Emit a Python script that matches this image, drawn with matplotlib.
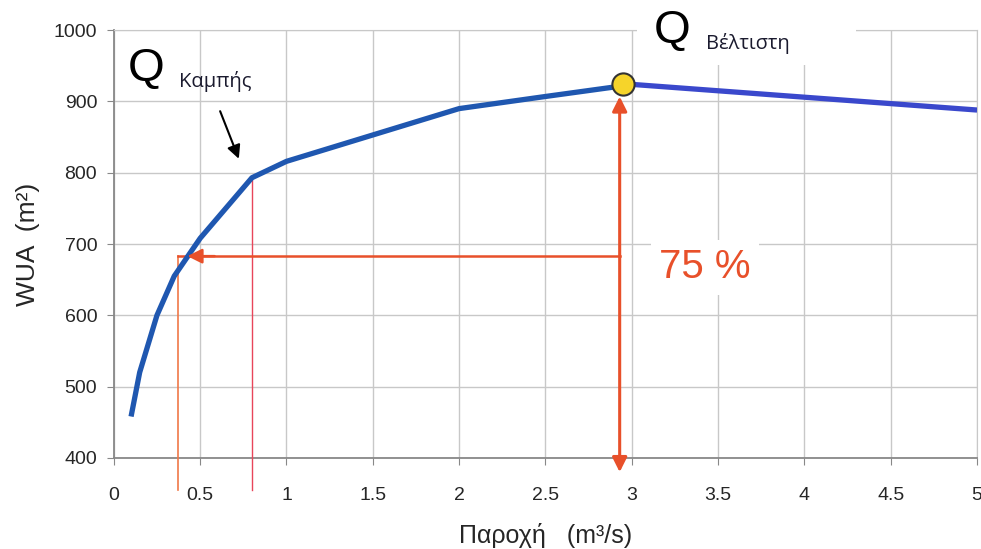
import numpy as np
import matplotlib
matplotlib.use("Agg")
import matplotlib.pyplot as plt
from matplotlib.patches import Rectangle

plt.rcParams['font.family'] = ['Liberation Sans', 'DejaVu Sans']

# discharge (m3/s) and WUA (m2), rising part and falling part
flow_up = [0.1, 0.15, 0.25, 0.35, 0.5, 0.8, 1.0, 1.5, 2.0, 2.5, 2.95]
wua_up = [458, 520, 600, 655, 708, 793, 816, 853, 890, 907, 922]
flow_down = [2.95, 3.0, 3.5, 4.0, 4.5, 5.0]
wua_down = [925, 924, 915, 906, 897, 888]

q_opt = 2.95
wua_opt = 925
q_knee = 0.8
wua_knee = 793
q_75 = 0.37
wua_75 = 683

x_ticks = [0, 0.5, 1, 1.5, 2, 2.5, 3, 3.5, 4, 4.5, 5]
x_labels = ['0', '0.5', '1', '1.5', '2', '2.5', '3', '3.5', '4', '4.5', '5']
y_ticks = [400, 500, 600, 700, 800, 900, 1000]

red = '#E8502A'
text_col = '#262626'

fig = plt.figure(figsize=(9.81, 5.49), dpi=100)
ax = fig.add_axes([0.116, 0.166, 0.880, 0.779])

ax.set_xlim(0, 5)
ax.set_ylim(400, 1000)
ax.set_xticks(x_ticks)
ax.set_xticklabels(x_labels)
ax.set_yticks(y_ticks)
ax.grid(True, color='#c8c8c8', linewidth=1.0)
ax.set_axisbelow(True)
for s in ['top', 'right']:
    ax.spines[s].set_color('#c8c8c8')
for s in ['left', 'bottom']:
    ax.spines[s].set_color('#888888')
    ax.spines[s].set_linewidth(1.3)
ax.tick_params(axis='both', colors='#888888', length=5, labelcolor=text_col, labelsize=14)
ax.tick_params(axis='x', pad=16)
ax.tick_params(axis='y', pad=7)

ax.set_xlabel('Παροχή   (m³/s)', fontsize=18, color=text_col, labelpad=14)
ax.set_ylabel('WUA  (m²)', fontsize=19, color=text_col, labelpad=10)

# curve
ax.plot(flow_up, wua_up, color='#1F57B0', linewidth=3.8, solid_capstyle='butt', zorder=5)
ax.plot(flow_down, wua_down, color='#3A48CC', linewidth=3.8, solid_capstyle='butt', zorder=5)

# thin guide lines down to the axis
ax.plot([q_75, q_75], [wua_75, 355], color='#F07848', linewidth=1.2, clip_on=False, zorder=4)
ax.plot([q_knee, q_knee], [wua_knee, 355], color='#E8455A', linewidth=1.0, clip_on=False, zorder=4)

# horizontal 75 % arrow
ax.plot([q_75, q_opt - 0.02], [wua_75, wua_75], color=red, linewidth=1.8, zorder=4)
ax.annotate('', xy=(0.41, wua_75), xytext=(0.6, wua_75),
            arrowprops=dict(arrowstyle='-|>', color=red, lw=1.8, mutation_scale=22), zorder=6)

# vertical double arrow at optimum
ax.annotate('', xy=(q_opt - 0.02, 907), xytext=(q_opt - 0.02, 380),
            arrowprops=dict(arrowstyle='<|-|>', color=red, lw=2.2, mutation_scale=22,
                            shrinkA=0, shrinkB=0),
            annotation_clip=False, zorder=6)

# optimum point
ax.plot([q_opt], [wua_opt], marker='o', markersize=16, markerfacecolor='#F6D42A',
        markeredgecolor='#333333', markeredgewidth=1.5, zorder=7)

# knee arrow
ax.annotate('', xy=(0.73, 816), xytext=(0.61, 890),
            arrowprops=dict(arrowstyle='-|>', color='black', lw=1.5, mutation_scale=20), zorder=6)

# labels
ax.text(0.08, 929, 'Q', fontsize=34, color='black', ha='left', va='baseline', zorder=8)
ax.text(0.375, 920, 'Καμπής', fontsize=14.5, color='#1a1a2e', ha='left', va='baseline',
        family=['Open Sans', 'DejaVu Sans'], zorder=8)

ax.add_patch(Rectangle((3.03, 951), 1.27, 60, facecolor='white', edgecolor='none',
                       clip_on=False, zorder=6))
ax.text(3.13, 982, 'Q', fontsize=34, color='black', ha='left', va='baseline', zorder=8)
ax.text(3.43, 974, 'Βέλτιστη', fontsize=14.5, color='#1a1a2e', ha='left', va='baseline',
        family=['Open Sans', 'DejaVu Sans'], zorder=8)

ax.text(3.16, 652, '75 %', fontsize=29, color=red, ha='left', va='baseline', zorder=8,
        bbox=dict(facecolor='white', edgecolor='none', pad=6))

fig.savefig('out.png', dpi=100)
